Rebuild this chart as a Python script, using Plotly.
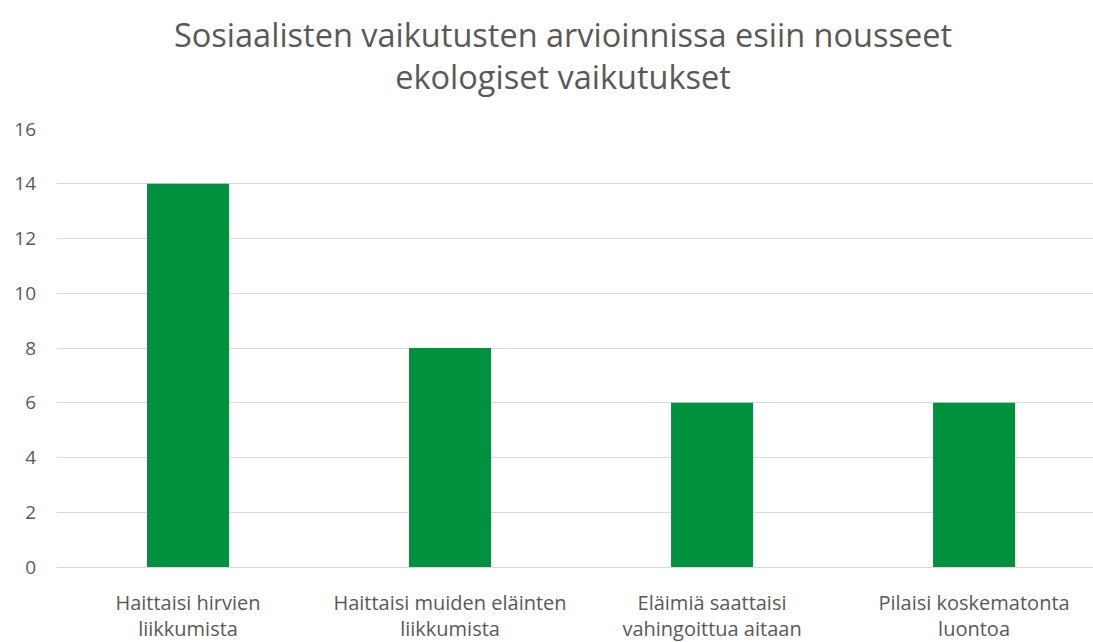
import plotly.graph_objects as go

# Ecological impacts raised in the social impact assessment
categories = [
    "Haittaisi hirvien<br>liikkumista",
    "Haittaisi muiden eläinten<br>liikkumista",
    "Eläimiä saattaisi<br>vahingoittua aitaan",
    "Pilaisi koskematonta<br>luontoa",
]
counts = [14, 8, 6, 6]
y_ticks = [0, 2, 4, 6, 8, 10, 12, 14, 16]
title_text = "Sosiaalisten vaikutusten arvioinnissa esiin nousseet<br>ekologiset vaikutukset"

TEXT = "#595959"
GRID = "#D9D9D9"
BAR = "#00913F"
FONT = "Open Sans"

W, H = 1093, 642
L, T, B = 57, 129, 73
plot_h = H - T - B
plot_w = W - L

fig = go.Figure(
    go.Bar(
        x=list(range(len(categories))),
        y=counts,
        marker=dict(color=BAR, line=dict(width=0)),
        width=0.313,
        hoverinfo="skip",
    )
)

# Two-line chart title, centred above the plot
fig.add_annotation(
    text=title_text,
    xref="paper",
    yref="paper",
    x=(563 - L) / plot_w,
    y=(H - B - 55) / plot_h,
    xanchor="center",
    yanchor="middle",
    showarrow=False,
    font=dict(family=FONT, size=32.5, color=TEXT),
)

fig.update_layout(
    width=W,
    height=H,
    margin=dict(l=L, r=0, t=T, b=B),
    paper_bgcolor="white",
    plot_bgcolor="white",
    showlegend=False,
    font=dict(family=FONT, color=TEXT),
    xaxis=dict(
        range=[-0.5, 3.454],
        tickmode="array",
        tickvals=list(range(len(categories))),
        ticktext=categories,
        tickfont=dict(size=20, color=TEXT),
        showgrid=False,
        showline=False,
        zeroline=False,
        ticks="",
        ticklabelstandoff=22,
        fixedrange=True,
    ),
    yaxis=dict(
        range=[0, 16],
        tickmode="array",
        tickvals=y_ticks,
        ticktext=[str(v) for v in y_ticks],
        tickfont=dict(size=19, color=TEXT),
        showgrid=True,
        gridcolor=GRID,
        gridwidth=1,
        zeroline=True,
        zerolinecolor=GRID,
        zerolinewidth=1,
        showline=False,
        ticks="",
        ticklabelstandoff=20,
        fixedrange=True,
    ),
)

fig.write_html("out.html")
